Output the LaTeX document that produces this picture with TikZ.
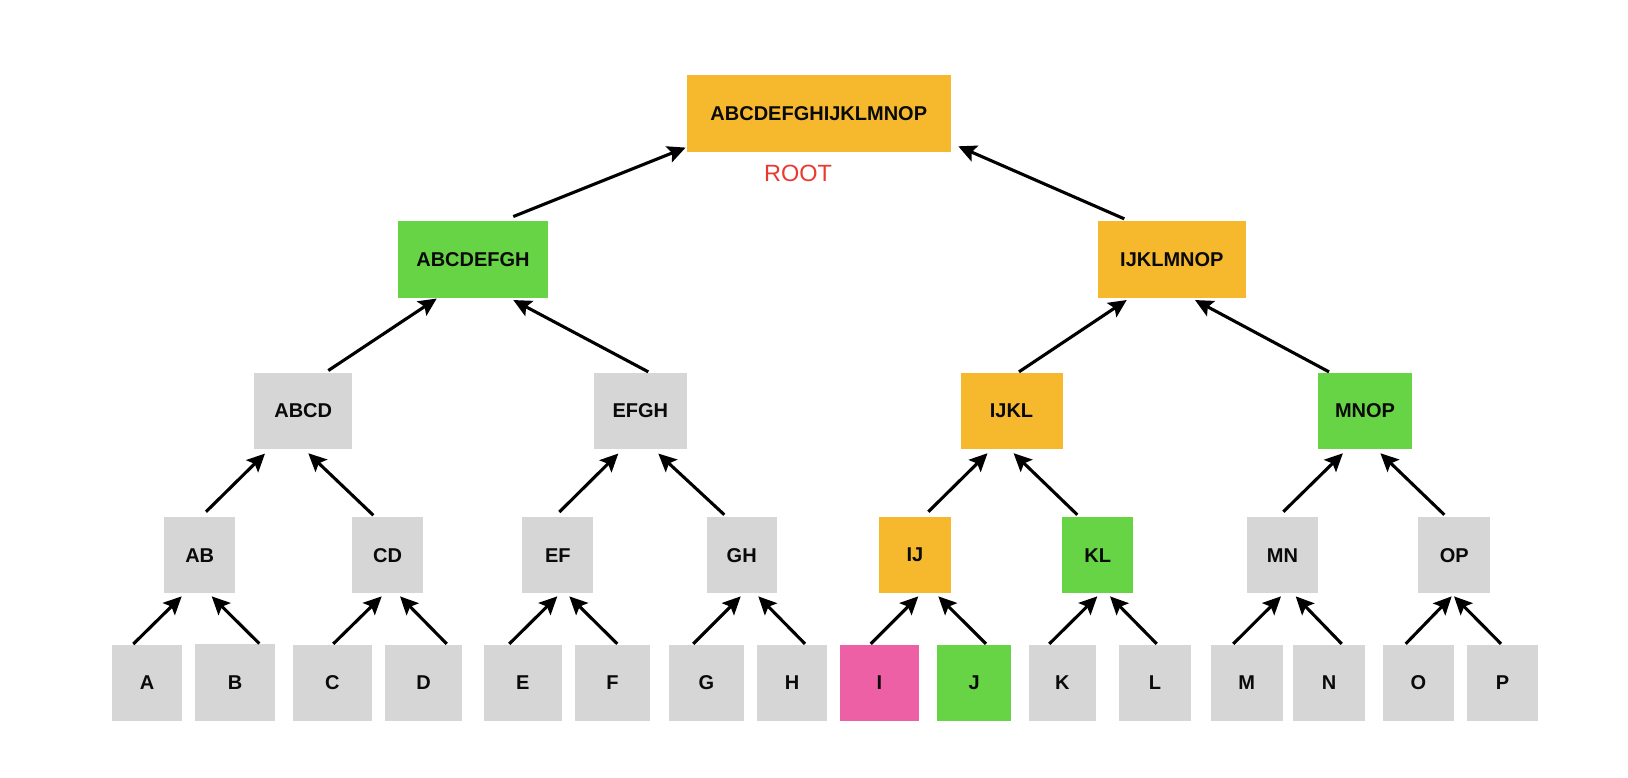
\documentclass[tikz,border=0pt]{standalone}
\usepackage{fontspec}
\setmainfont{Liberation Sans}
\usetikzlibrary{arrows.meta}
\definecolor{gorange}{RGB}{246,185,45}
\definecolor{ggreen}{RGB}{102,212,68}
\definecolor{ggray}{RGB}{214,214,214}
\definecolor{gpink}{RGB}{238,96,166}
\definecolor{gred}{RGB}{232,58,48}
\definecolor{gtext}{RGB}{10,10,10}
\newcommand\conn[6]{\draw[arr] ([xshift=#2pt,yshift=#3pt]#1.north) -- ([xshift=#5pt,yshift=#6pt]#4.south);}
\begin{document}
\begin{tikzpicture}[x=1pt,y=-1pt,
  box/.style={rectangle, inner sep=0pt, minimum height=76.5pt,
    font=\fontsize{20}{24}\selectfont\bfseries, text=gtext},
  grayb/.style={box, fill=ggray},
  orangeb/.style={box, fill=gorange},
  greenb/.style={box, fill=ggreen},
  pinkb/.style={box, fill=gpink},
  arr/.style={line width=3.1pt, draw=black,
    -{Stealth[length=18pt,width=17pt,inset=3.5pt]}}
]
\useasboundingbox (0,0) rectangle (1628,778);
\fill[white] (0,0) rectangle (1628,778);

% level 0
\node[orangeb, minimum width=264pt, minimum height=77pt] (root) at (818.8,113.3) {ABCDEFGHIJKLMNOP};
\node[text=gred, font=\fontsize{23.5}{28}\selectfont, inner sep=0pt] (rootlbl) at (798,173) {ROOT};

% level 1
\node[greenb, minimum width=150.6pt] (ABCDEFGH) at (473,259.3) {ABCDEFGH};
\node[orangeb, minimum width=148.3pt] (IJKLMNOP) at (1171.9,259.3) {IJKLMNOP};

% level 2
\node[grayb, minimum width=98pt] (ABCD) at (303.2,410.8) {ABCD};
\node[grayb, minimum width=93pt] (EFGH) at (640.3,410.8) {EFGH};
\node[orangeb, minimum width=102pt] (IJKL) at (1011.5,410.8) {IJKL};
\node[greenb, minimum width=94.5pt] (MNOP) at (1365,410.8) {MNOP};

% level 3
\node[grayb, minimum width=70.7pt] (AB) at (199.7,555.2) {AB};
\node[grayb, minimum width=71pt] (CD) at (387.5,555.2) {CD};
\node[grayb, minimum width=71pt] (EF) at (557.8,555.2) {EF};
\node[grayb, minimum width=70pt] (GH) at (741.7,555.2) {GH};
\node[orangeb, minimum width=71.4pt] (IJ) at (915,555.2) {IJ};
\node[greenb, minimum width=71pt] (KL) at (1097.8,555.2) {KL};
\node[grayb, minimum width=71.6pt] (MN) at (1282.5,555.2) {MN};
\node[grayb, minimum width=71.7pt] (OP) at (1454.2,555.2) {OP};

% level 4
\node[grayb, minimum width=70.6pt] (A) at (147,683) {A};
\node[grayb, minimum width=80pt] (B) at (235,682.5) {B};
\node[grayb, minimum width=78.7pt] (C) at (332.3,682.8) {C};
\node[grayb, minimum width=77.3pt] (D) at (423.7,682.8) {D};
\node[grayb, minimum width=77.7pt] (E) at (522.8,682.8) {E};
\node[grayb, minimum width=75pt] (F) at (612.5,682.8) {F};
\node[grayb, minimum width=75pt] (G) at (706.5,682.8) {G};
\node[grayb, minimum width=70pt] (H) at (792,682.8) {H};
\node[pinkb, minimum width=79pt] (I) at (879.5,682.8) {I};
\node[greenb, minimum width=73.7pt] (J) at (974.2,682.8) {J};
\node[grayb, minimum width=66.7pt] (K) at (1062.3,682.8) {K};
\node[grayb, minimum width=72pt] (L) at (1155,682.8) {L};
\node[grayb, minimum width=72pt] (M) at (1246.7,682.8) {M};
\node[grayb, minimum width=71.7pt] (N) at (1329.2,682.8) {N};
\node[grayb, minimum width=71.3pt] (O) at (1418.3,682.8) {O};
\node[grayb, minimum width=71.6pt] (P) at (1502.5,682.8) {P};

% arrows to root
\draw[arr] ([xshift=40.3pt,yshift=4.3pt]ABCDEFGH.north) -- ([xshift=-1pt,yshift=4.4pt]root.south west);
\draw[arr] ([xshift=-47.6pt,yshift=2pt]IJKLMNOP.north) -- ([xshift=7.3pt,yshift=5.7pt]root.south east);

% level 2 -> 1
\conn{ABCD}{25.1}{1.8}{ABCDEFGH}{-36.3}{-0.8}
\conn{EFGH}{8}{0.5}{ABCDEFGH}{40.3}{-2.3}
\conn{IJKL}{7.5}{0.5}{IJKLMNOP}{-45.2}{-2.3}
\conn{MNOP}{-36}{0.5}{IJKLMNOP}{23.1}{-2.3}

% level 3 -> 2
\conn{AB}{6.3}{5}{ABCD}{-38.2}{-4.3}
\conn{CD}{-14.2}{1.5}{ABCD}{5.1}{-4}
\conn{EF}{1.5}{4.7}{EFGH}{-22}{-4.3}
\conn{GH}{-17.4}{2}{EFGH}{18}{-4.3}
\conn{IJ}{13.3}{5}{IJKL}{-24}{-4}
\conn{KL}{-20.5}{2}{IJKL}{2.1}{-4}
\conn{MN}{0.8}{5}{MNOP}{-22.1}{-4}
\conn{OP}{-9.9}{2}{MNOP}{15.4}{-4}

% level 4 -> 3
\conn{A}{-13.7}{0.5}{AB}{-18}{-2.7}
\conn{B}{24.3}{0.5}{AB}{12}{-2.7}
\conn{C}{1}{0.5}{CD}{-5.8}{-2.7}
\conn{D}{23}{0.5}{CD}{12.5}{-2.7}
\conn{E}{-13.5}{0.5}{EF}{-0.5}{-2.7}
\conn{F}{4.8}{0.5}{EF}{11.5}{-2.7}
\conn{G}{-13.2}{0.5}{GH}{-1}{-2.7}
\conn{H}{13}{0.5}{GH}{16.6}{-2.7}
\conn{I}{-8.8}{0.5}{IJ}{3.3}{-2.7}
\conn{J}{11.8}{0.5}{IJ}{23.3}{-2.7}
\conn{K}{-13}{0.5}{KL}{-0.5}{-2.7}
\conn{L}{1.7}{0.5}{KL}{12.2}{-2.7}
\conn{M}{-13.4}{0.5}{MN}{-1.5}{-2.7}
\conn{N}{12.5}{0.5}{MN}{13.2}{-2.7}
\conn{O}{-12.6}{0.5}{OP}{-2.5}{-2.7}
\conn{P}{-1.5}{0.5}{OP}{-0.2}{-2.7}
\end{tikzpicture}
\end{document}
